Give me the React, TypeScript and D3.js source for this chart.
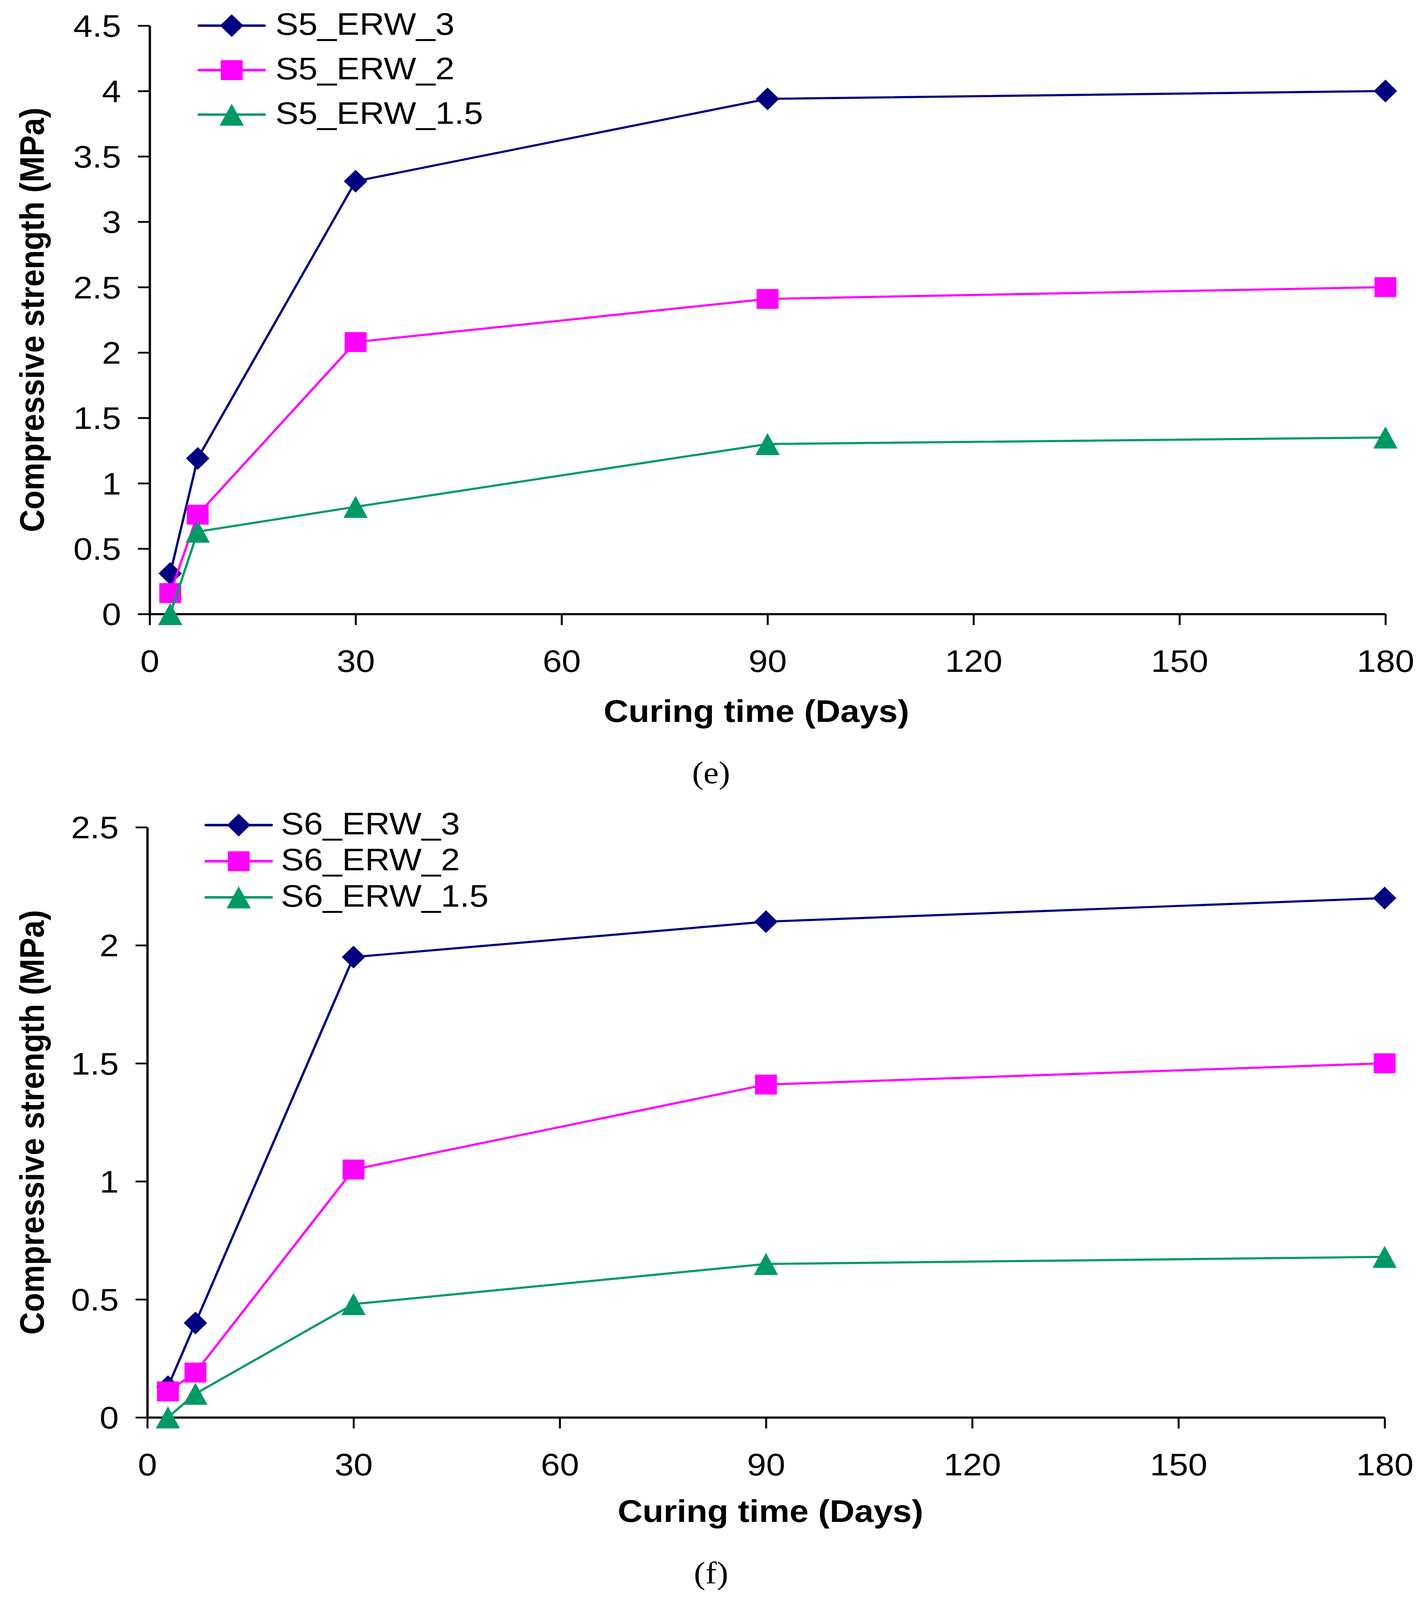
import { useEffect, useRef } from "react";
import * as d3 from "d3";

// curing days shared by both panels
const DAYS = [3, 7, 30, 90, 180];
const X_TICKS = [0, 30, 60, 90, 120, 150, 180];

// panel (e)
const E_NAMES = ["S5_ERW_3", "S5_ERW_2", "S5_ERW_1.5"];
const S5_ERW_3 = [0.31, 1.19, 3.31, 3.94, 4.0];
const S5_ERW_2 = [0.16, 0.76, 2.08, 2.41, 2.5];
const S5_ERW_15 = [0.0, 0.63, 0.82, 1.3, 1.35];
const E_Y_TICKS = [0, 0.5, 1, 1.5, 2, 2.5, 3, 3.5, 4, 4.5];

// panel (f)
const F_NAMES = ["S6_ERW_3", "S6_ERW_2", "S6_ERW_1.5"];
const S6_ERW_3 = [0.13, 0.4, 1.95, 2.1, 2.2];
const S6_ERW_2 = [0.11, 0.19, 1.05, 1.41, 1.5];
const S6_ERW_15 = [0.0, 0.1, 0.48, 0.65, 0.68];
const F_Y_TICKS = [0, 0.5, 1, 1.5, 2, 2.5];

const COLORS = ["#000080", "#FF00FF", "#009966"];
const SHAPES = ["diamond", "square", "triangle"];

const SANS = "'Liberation Sans', Arial, sans-serif";
const SERIF = "'Liberation Serif', 'Times New Roman', serif";
const FS = 88;

const W = 3655;
const H = 4495;

function markerPath(shape: string) {
  if (shape === "diamond") return "M0,-32L30,0L0,32L-30,0Z";
  if (shape === "square") return "M-28,-28H28V28H-28Z";
  return "M0,-31L31,31L-31,31Z";
}

interface PanelProps {
  names: string[];
  series: number[][];
  yTicks: number[];
  x0: number;
  x1: number;
  yTop: number;
  yBot: number;
  legend: { lineX0: number; lineX1: number; textX: number; y0: number; step: number };
  xTitle: { x: number; y: number };
  caption: { text: string; x: number; y: number };
}

function Panel({ names, series, yTicks, x0, x1, yTop, yBot, legend, xTitle, caption }: PanelProps) {
  const ref = useRef<SVGGElement>(null);

  useEffect(() => {
    const g = d3.select(ref.current);
    g.selectAll("*").remove();

    const x = d3.scaleLinear().domain([0, 180]).range([x0, x1]);
    const y = d3.scaleLinear().domain([0, yTicks[yTicks.length - 1]]).range([yBot, yTop]);

    // Axes
    g.append("g")
      .attr("transform", `translate(${x0},0)`)
      .call(d3.axisLeft(y).tickValues(yTicks).tickFormat((d) => String(d)).tickSize(30).tickPadding(43).tickSizeOuter(0))
      .call((ax) => ax.attr("font-family", SANS).attr("font-size", FS))
      .call((ax) => ax.select(".domain").attr("stroke", "#000").attr("stroke-width", 6))
      .call((ax) => ax.selectAll(".tick line").attr("stroke", "#000").attr("stroke-width", 5))
      .call((ax) => ax.selectAll(".tick text").attr("fill", "#000").attr("dy", "0.35em"));

    g.append("g")
      .attr("transform", `translate(0,${yBot})`)
      .call(d3.axisBottom(x).tickValues(X_TICKS).tickFormat((d) => String(d)).tickSize(31).tickPadding(69).tickSizeOuter(0))
      .call((ax) => ax.attr("font-family", SANS).attr("font-size", FS))
      .call((ax) => ax.select(".domain").attr("stroke", "#000").attr("stroke-width", 6))
      .call((ax) => ax.selectAll(".tick line").attr("stroke", "#000").attr("stroke-width", 5))
      .call((ax) => ax.selectAll(".tick text").attr("fill", "#000"));

    // Series: line then markers, later series on top
    const line = d3.line<number>()
      .x((_, i) => x(DAYS[i]))
      .y((v) => y(v));

    series.forEach((vals, si) => {
      const s = g.append("g");
      s.append("path")
        .datum(vals)
        .attr("d", line)
        .attr("fill", "none")
        .attr("stroke", COLORS[si])
        .attr("stroke-width", 6)
        .attr("stroke-linejoin", "round");
      s.selectAll("path.m")
        .data(vals)
        .join("path")
        .attr("class", "m")
        .attr("d", markerPath(SHAPES[si]))
        .attr("transform", (v, i) => `translate(${x(DAYS[i])},${y(v)})`)
        .attr("fill", COLORS[si]);
    });

    // Legend
    names.forEach((name, i) => {
      const ly = legend.y0 + i * legend.step;
      const mx = (legend.lineX0 + legend.lineX1) / 2;
      g.append("line")
        .attr("x1", legend.lineX0).attr("x2", legend.lineX1)
        .attr("y1", ly).attr("y2", ly)
        .attr("stroke", COLORS[i])
        .attr("stroke-width", 7)
        .attr("stroke-linecap", "round");
      g.append("path")
        .attr("d", markerPath(SHAPES[i]))
        .attr("transform", `translate(${mx},${ly})`)
        .attr("fill", COLORS[i]);
      g.append("text")
        .attr("x", legend.textX).attr("y", ly + 26)
        .attr("font-family", SANS)
        .attr("font-size", FS)
        .attr("fill", "#000")
        .text(name);
    });

    // Axis titles
    g.append("text")
      .attr("x", xTitle.x).attr("y", xTitle.y)
      .attr("text-anchor", "middle")
      .attr("font-family", SANS)
      .attr("font-size", FS)
      .attr("font-weight", "bold")
      .text("Curing time (Days)");

    g.append("text")
      .attr("transform", `translate(112,${(yTop + yBot) / 2}) rotate(-90)`)
      .attr("text-anchor", "middle")
      .attr("font-family", SANS)
      .attr("font-size", FS)
      .attr("font-weight", "bold")
      .text("Compressive strength (MPa)");

    // Caption
    g.append("text")
      .attr("x", caption.x).attr("y", caption.y)
      .attr("text-anchor", "middle")
      .attr("font-family", SERIF)
      .attr("font-size", FS)
      .text(caption.text);
  }, [names, series, yTicks, x0, x1, yTop, yBot, legend, xTitle, caption]);

  return <g ref={ref} />;
}

export default function App() {
  // fill the whole viewport so nothing falls outside the photographed area
  return (
    <svg
      viewBox={`0 0 ${W} ${H}`}
      preserveAspectRatio="none"
      style={{ position: "absolute", left: 0, top: 0, width: "100vw", height: "100vh", display: "block" }}
    >
      <rect width={W} height={H} fill="#fff" />
      <Panel
        names={E_NAMES}
        series={[S5_ERW_3, S5_ERW_2, S5_ERW_15]}
        yTicks={E_Y_TICKS}
        x0={383}
        x1={3546}
        yTop={72}
        yBot={1725}
        legend={{ lineX0: 509, lineX1: 677, textX: 705, y0: 72, step: 125 }}
        xTitle={{ x: 1936, y: 2028 }}
        caption={{ text: "(e)", x: 1820, y: 2200 }}
      />
      <Panel
        names={F_NAMES}
        series={[S6_ERW_3, S6_ERW_2, S6_ERW_15]}
        yTicks={F_Y_TICKS}
        x0={377}
        x1={3544}
        yTop={2324}
        yBot={3982}
        legend={{ lineX0: 527, lineX1: 695, textX: 719, y0: 2318, step: 101.5 }}
        xTitle={{ x: 1972, y: 4276 }}
        caption={{ text: "(f)", x: 1820, y: 4449 }}
      />
    </svg>
  );
}
